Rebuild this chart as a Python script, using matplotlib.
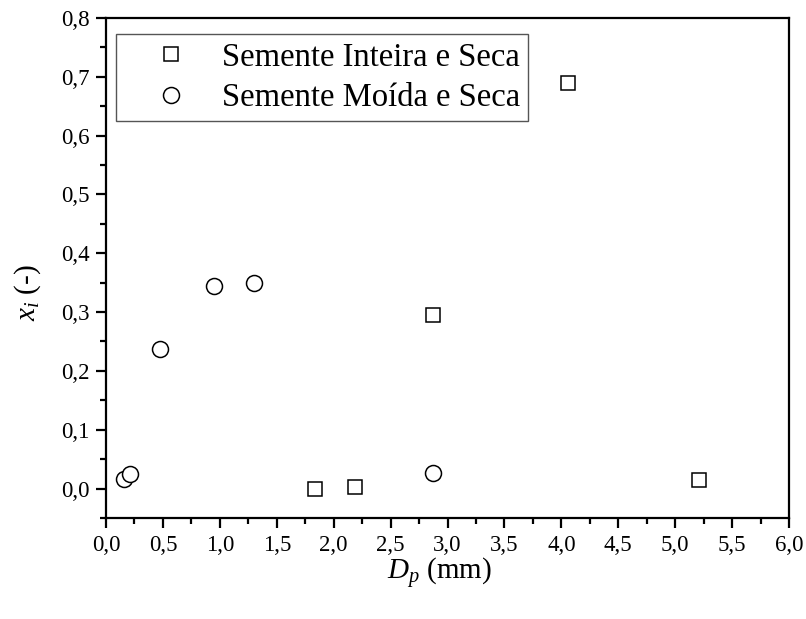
import numpy as np
import matplotlib
matplotlib.use('Agg')
from matplotlib import pyplot as plt
from matplotlib.ticker import MultipleLocator, FuncFormatter

plt.rcParams['font.family'] = 'Liberation Serif'
plt.rcParams['mathtext.fontset'] = 'custom'
plt.rcParams['mathtext.rm'] = 'Liberation Serif'
plt.rcParams['mathtext.it'] = 'Liberation Serif:italic'

# data
inteira_dp = [1.84, 2.19, 2.87, 4.06, 5.21]
inteira_xi = [0.000, 0.002, 0.295, 0.689, 0.014]
moida_dp = [0.16, 0.21, 0.475, 0.95, 1.30, 2.87]
moida_xi = [0.017, 0.024, 0.238, 0.345, 0.350, 0.026]

fig = plt.figure(figsize=(8.06, 6.19), dpi=100)
ax = fig.add_axes([0.1315, 0.1632, 0.8475, 0.808])

ax.plot(inteira_dp, inteira_xi, 's', ms=10, mfc='white', mec='black', mew=1.1,
        linestyle='none', label='Semente Inteira e Seca')
ax.plot(moida_dp, moida_xi, 'o', ms=11.5, mfc='white', mec='black', mew=1.1,
        linestyle='none', label='Semente Moída e Seca')

ax.set_xlim(0, 6)
ax.set_ylim(-0.05, 0.8)
ax.xaxis.set_major_locator(MultipleLocator(0.5))
ax.xaxis.set_minor_locator(MultipleLocator(0.25))
ax.yaxis.set_major_locator(MultipleLocator(0.1))
ax.yaxis.set_minor_locator(MultipleLocator(0.05))
comma = FuncFormatter(lambda v, p: ('%.1f' % v).replace('.', ','))
ax.xaxis.set_major_formatter(comma)
ax.yaxis.set_major_formatter(comma)

for s in ax.spines.values():
    s.set_linewidth(1.6)
ax.tick_params(which='major', direction='out', length=7, width=1.6, labelsize=16.5, pad=5)
ax.tick_params(which='minor', direction='out', length=4, width=1.6)
ax.tick_params(which='both', top=False, right=False)

ax.set_xlabel(r'$D_p$ (mm)', fontsize=21)
ax.set_ylabel(r'$x_i$ (-)', fontsize=21)
ax.xaxis.set_label_coords(0.4876, -0.076)
ax.yaxis.set_label_coords(-0.092, 0.45)

leg = ax.legend(loc='upper left', bbox_to_anchor=(116/806, 1-34/619),
                bbox_transform=fig.transFigure, borderaxespad=0, fontsize=23.5,
                fancybox=False, framealpha=1, edgecolor='#555555',
                handlelength=2.85, handletextpad=0.15, borderpad=0.25,
                labelspacing=0.3)
leg.get_frame().set_linewidth(1.0)

fig.savefig('out.png', dpi=100)
